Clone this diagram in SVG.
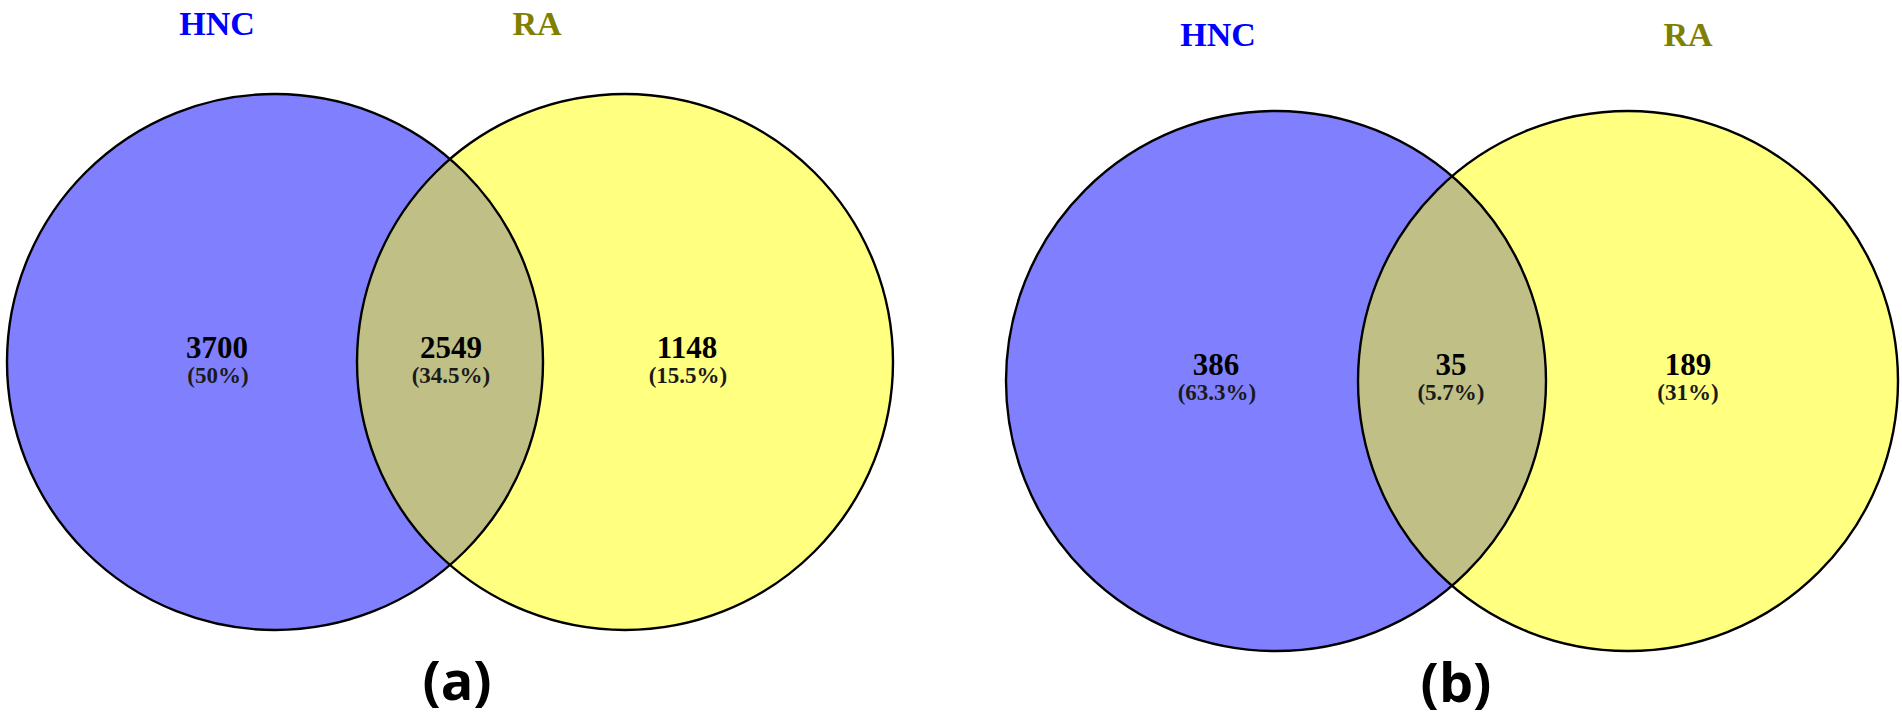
<svg xmlns="http://www.w3.org/2000/svg" width="1902" height="718" viewBox="0 0 1902 718">
<style>
.bl{fill:#8080FF}
.ye{fill:#FFFF80}
.ov{fill:#BFBF86}
.ol{fill:none;stroke:#000;stroke-width:2.4}
.num{font-family:"Liberation Serif","Times New Roman",serif;font-weight:bold;font-size:31px;text-anchor:middle;fill:#000}
.pct{font-family:"Liberation Serif","Times New Roman",serif;font-weight:bold;font-size:23px;text-anchor:middle;fill:#1a1a1a}
.ttl{font-family:"Liberation Serif","Times New Roman",serif;font-weight:bold;font-size:34px;text-anchor:middle}
.cap{font-family:"Open Sans","DejaVu Sans",sans-serif;font-weight:bold;font-size:54px;text-anchor:middle;fill:#000}
</style>
<rect width="1902" height="718" fill="#fff"/>
<g id="venn-a">
  <g id="a-hnc">
    <circle class="bl" cx="275" cy="362" r="268"/>
    <text class="ttl" x="217" y="35" fill="#0000FF">HNC</text>
    <text class="num" x="217" y="358">3700</text>
    <text class="pct" x="218" y="383">(50%)</text>
  </g>
  <g id="a-ra">
    <circle class="ye" cx="625" cy="362" r="268"/>
    <text class="ttl" x="537" y="35" fill="#808000">RA</text>
    <text class="num" x="687" y="358">1148</text>
    <text class="pct" x="688" y="383">(15.5%)</text>
  </g>
  <g id="a-overlap">
    <path class="ov" d="M450,159 A268,268 0 0 1 450,565 A268,268 0 0 1 450,159 Z"/>
    <text class="num" x="451" y="358">2549</text>
    <text class="pct" x="451" y="383">(34.5%)</text>
  </g>
  <g id="a-outlines">
    <circle class="ol" cx="275" cy="362" r="268"/>
    <circle class="ol" cx="625" cy="362" r="268"/>
  </g>
  <text class="cap" x="457" y="700">(a)</text>
</g>
<g id="venn-b">
  <g id="b-hnc">
    <circle class="bl" cx="1276" cy="381" r="270"/>
    <text class="ttl" x="1218" y="46" fill="#0000FF">HNC</text>
    <text class="num" x="1216" y="375">386</text>
    <text class="pct" x="1217" y="400">(63.3%)</text>
  </g>
  <g id="b-ra">
    <circle class="ye" cx="1628" cy="381" r="270"/>
    <text class="ttl" x="1688" y="46" fill="#808000">RA</text>
    <text class="num" x="1688" y="375">189</text>
    <text class="pct" x="1688" y="400">(31%)</text>
  </g>
  <g id="b-overlap">
    <path class="ov" d="M1452,176.2 A270,270 0 0 1 1452,585.8 A270,270 0 0 1 1452,176.2 Z"/>
    <text class="num" x="1451" y="375">35</text>
    <text class="pct" x="1451" y="400">(5.7%)</text>
  </g>
  <g id="b-outlines">
    <circle class="ol" cx="1276" cy="381" r="270"/>
    <circle class="ol" cx="1628" cy="381" r="270"/>
  </g>
  <text class="cap" x="1456" y="702">(b)</text>
</g>
<g id="connectors"/>
</svg>
